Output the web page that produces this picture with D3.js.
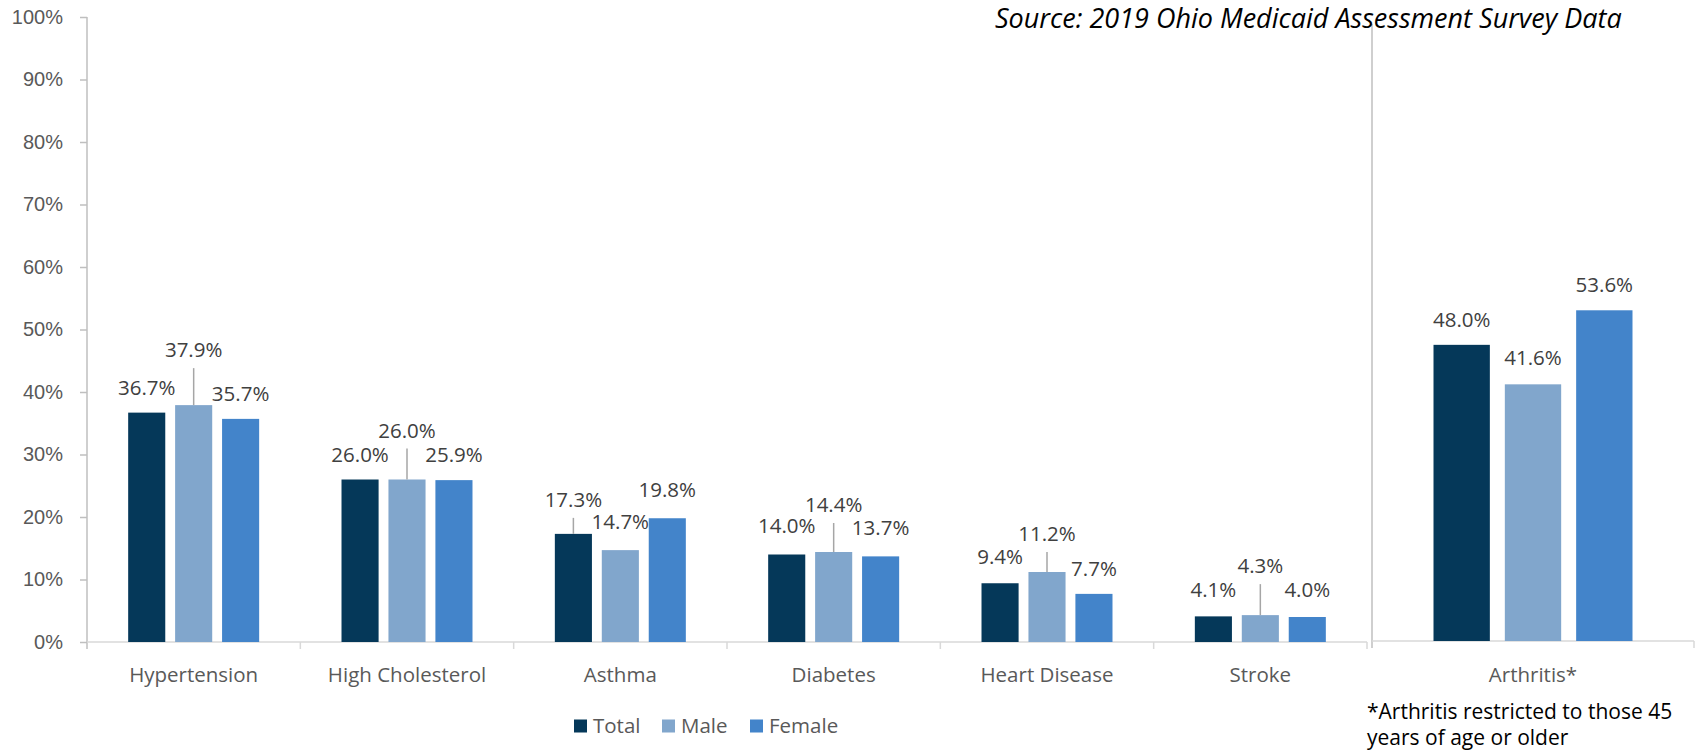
<!DOCTYPE html>
<html>
<head>
<meta charset="utf-8">
<script src="https://cdn.jsdelivr.net/npm/d3@7"></script>
<style>
  body { margin: 0; background: #fff; }
  svg { font-family: 'Open Sans', sans-serif; }
</style>
</head>
<body>
<div class="wrapper"></div>
<script>
const categories = ['Hypertension', 'High Cholesterol', 'Asthma', 'Diabetes', 'Heart Disease', 'Stroke']
const series = ['Total', 'Male', 'Female']
const totalValues = [36.7, 26.0, 17.3, 14.0, 9.4, 4.1]
const maleValues = [37.9, 26.0, 14.7, 14.4, 11.2, 4.3]
const femaleValues = [35.7, 25.9, 19.8, 13.7, 7.7, 4.0]
const sideCategory = ['Arthritis*']
const arthritisValues = [48.0, 41.6, 53.6]
const yTicks = [0, 0.1, 0.2, 0.3, 0.4, 0.5, 0.6, 0.7, 0.8, 0.9, 1]

const colors = { Total: '#053859', Male: '#81a6cc', Female: '#4384ca' }

// extra lift (px) of dragged data labels, per category row [Total, Male, Female]
const labelLift = [[0, 30, 0], [0, 24, 0], [9, 3, 3], [4, 22, 3], [1, 13, 0], [1, 24, 2]]
const sideLift = [[0, 1, 0]]

const width = 1696, height = 752

const svg = d3.select('.wrapper')
  .append('svg')
  .attr('width', width)
  .attr('height', height)

const rows = categories.map((c, i) => ({
  cat: c, values: [totalValues[i], maleValues[i], femaleValues[i]], lift: labelLift[i]
}))
const sideRows = sideCategory.map((c, i) => ({ cat: c, values: arthritisValues, lift: sideLift[i] }))

// left panel
drawPanel(rows, {
  x: [87, 1367], y: [642, 17], pad: 0.386, showY: true
})
// right panel (arthritis)
drawPanel(sideRows, {
  x: [1372, 1694], y: [641, 24], pad: 0.382, showY: false
})

function drawPanel(data, opt) {
  const g = svg.append('g')

  const x0 = d3.scaleBand()
    .domain(data.map(d => d.cat))
    .range(opt.x)
    .paddingInner(opt.pad)
    .paddingOuter(opt.pad / 2)

  const x1 = d3.scaleBand()
    .domain(series)
    .range([0, x0.bandwidth()])
    .paddingInner(0.21)

  const y = d3.scaleLinear().domain([0, 1]).range(opt.y)

  // y axis
  if (opt.showY) {
    const yAxis = g.append('g')
      .attr('transform', `translate(${opt.x[0]},0)`)
      .call(d3.axisLeft(y).tickValues(yTicks).tickFormat(d3.format('.0%')).tickSize(7).tickPadding(17).tickSizeOuter(0))
    yAxis.select('.domain').remove()
    yAxis.selectAll('line').attr('stroke', '#bfbfbf').attr('stroke-width', 1.5)
    yAxis.selectAll('text')
      .attr('fill', '#595959')
      .style('font-size', '20px')
  }
  g.append('line')
    .attr('x1', opt.x[0]).attr('x2', opt.x[0])
    .attr('y1', opt.y[1]).attr('y2', opt.y[0] + 7)
    .attr('stroke', '#bfbfbf').attr('stroke-width', 1.5)

  // x axis line + boundary ticks
  g.append('line')
    .attr('x1', opt.x[0]).attr('x2', opt.x[1])
    .attr('y1', opt.y[0]).attr('y2', opt.y[0])
    .attr('stroke', '#d9d9d9').attr('stroke-width', 1.5)

  const step = x0.step()
  g.selectAll('line.btick')
    .data(d3.range(1, data.length + 1))
    .join('line')
    .attr('class', 'btick')
    .attr('x1', i => opt.x[0] + i * step).attr('x2', i => opt.x[0] + i * step)
    .attr('y1', opt.y[0]).attr('y2', opt.y[0] + 7)
    .attr('stroke', '#d9d9d9').attr('stroke-width', 1.5)

  // category labels
  g.selectAll('text.cat')
    .data(data)
    .join('text')
    .attr('class', 'cat')
    .attr('x', d => x0(d.cat) + x0.bandwidth() / 2)
    .attr('y', 682)
    .attr('text-anchor', 'middle')
    .attr('fill', '#595959')
    .style('font-size', '20.5px')
    .text(d => d.cat)

  // bars
  const grp = g.selectAll('g.grp')
    .data(data)
    .join('g')
    .attr('class', 'grp')
    .attr('transform', d => `translate(${x0(d.cat)},0)`)

  const items = d => series.map((s, j) => ({ s, v: d.values[j], lift: d.lift[j] }))

  grp.selectAll('rect')
    .data(items)
    .join('rect')
    .attr('x', d => x1(d.s))
    .attr('width', x1.bandwidth())
    .attr('y', d => y(d.v / 100))
    .attr('height', d => y(0) - y(d.v / 100))
    .attr('fill', d => colors[d.s])

  // leader lines for lifted labels
  grp.selectAll('line.leader')
    .data(d => items(d).filter(e => e.lift > 5))
    .join('line')
    .attr('class', 'leader')
    .attr('x1', d => x1(d.s) + x1.bandwidth() / 2)
    .attr('x2', d => x1(d.s) + x1.bandwidth() / 2)
    .attr('y1', d => y(d.v / 100))
    .attr('y2', d => y(d.v / 100) - 7 - d.lift)
    .attr('stroke', '#a6a6a6').attr('stroke-width', 1.5)

  grp.selectAll('text.val')
    .data(items)
    .join('text')
    .attr('class', 'val')
    .attr('x', d => x1(d.s) + x1.bandwidth() / 2)
    .attr('y', d => y(d.v / 100) - 18 - d.lift)
    .attr('text-anchor', 'middle')
    .attr('fill', '#404040')
    .style('font-size', '20.5px')
    .text(d => d.v.toFixed(1) + '%')
}

// source note, fitted to its width in the original
const src = svg.append('text')
  .attr('x', 995).attr('y', 28)
  .attr('fill', '#000')
  .style('font-style', 'italic')
  .style('font-size', '24px')
  .text('Source: 2019 Ohio Medicaid Assessment Survey Data')
src.style('font-size', (24 * 627 / src.node().getComputedTextLength()) + 'px')

// legend
const legendX = [574, 662, 750]
const legend = svg.append('g')
  .selectAll('g')
  .data(series)
  .join('g')
  .attr('transform', (d, i) => `translate(${legendX[i]},726)`)
legend.append('rect')
  .attr('x', 0).attr('y', -6.5).attr('width', 13).attr('height', 13)
  .attr('fill', d => colors[d])
legend.append('text')
  .attr('x', 19).attr('y', 7)
  .attr('fill', '#595959')
  .style('font-size', '20.5px')
  .text(d => d)

// footnote
const note = svg.append('text')
  .attr('fill', '#000')
  .style('font-size', '21px')
note.append('tspan').attr('x', 1367).attr('y', 719).text('*Arthritis restricted to those 45')
note.append('tspan').attr('x', 1367).attr('y', 745).text('years of age or older')
</script>
</body>
</html>
